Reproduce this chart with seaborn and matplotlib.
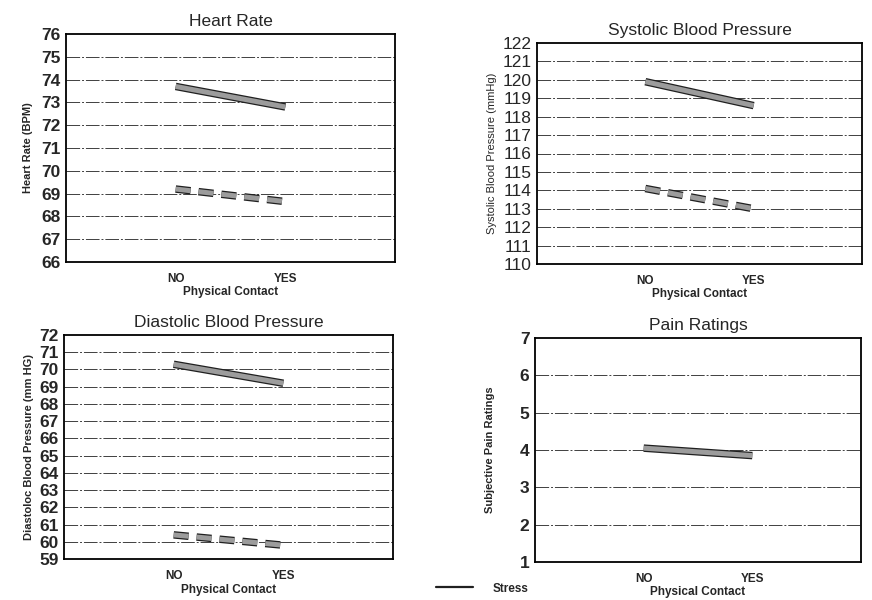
import matplotlib
matplotlib.use('Agg')
import matplotlib.pyplot as plt
import matplotlib.patheffects as pe
from matplotlib.lines import Line2D
import pandas as pd
import seaborn as sns

# values
contact = ['NO', 'YES']
hr_stress = [73.7, 72.8]
hr_control = [69.2, 68.65]
sbp_stress = [119.9, 118.6]
sbp_control = [114.1, 113.0]
dbp_stress = [70.3, 69.2]
dbp_control = [60.4, 59.8]
pain_stress = [4.05, 3.85]

sns.set_theme(style='white')
plt.rcParams['font.family'] = ['Liberation Sans', 'DejaVu Sans']


def make_df(stress, control=None):
    rows = [{'contact': c, 'value': v, 'cond': 'Stress'} for c, v in zip(contact, stress)]
    if control is not None:
        rows += [{'contact': c, 'value': v, 'cond': 'Control'} for c, v in zip(contact, control)]
    return pd.DataFrame(rows)


def panel(ax, df, title, ylabel, ylim, bold_ticks=True, bold_label=True):
    sns.lineplot(data=df, x='contact', y='value', style='cond', ax=ax,
                 dashes={'Stress': '', 'Control': (3, 1.6)}, color='#9c9c9c',
                 linewidth=3.6, legend=False, sort=False)
    for ln in ax.lines:
        ln.set_path_effects([pe.Stroke(linewidth=5.4, foreground='#202020'), pe.Normal()])
        ln.set_solid_capstyle('butt')
        ln.set_dash_capstyle('butt')
    ax.set_xlim(-1, 2)
    ax.set_ylim(*ylim)
    ax.set_yticks(range(ylim[0], ylim[1] + 1))
    for y in range(ylim[0] + 1, ylim[1]):
        ax.axhline(y, color='0.25', lw=0.7, ls=(0, (14, 2, 2, 2)), zorder=0)
    ax.set_title(title, fontsize=12.5, pad=6)
    ax.set_ylabel(ylabel, fontsize=8, fontweight='bold' if bold_label else 'normal')
    ax.set_xlabel('Physical Contact', fontsize=8.5, fontweight='bold', labelpad=1)
    ax.tick_params(axis='y', labelsize=12.5, length=0, pad=4)
    ax.tick_params(axis='x', labelsize=8.5, length=0, pad=8)
    for t in ax.get_xticklabels():
        t.set_fontweight('bold')
    if bold_ticks:
        for t in ax.get_yticklabels():
            t.set_fontweight('bold')
    for s in ax.spines.values():
        s.set_color('black')
        s.set_linewidth(1.3)


fig = plt.figure(figsize=(8.72, 6), dpi=100)
W, H = 872, 600


def add_axes(l, r, t, b):
    return fig.add_axes([l / W, 1 - b / H, (r - l) / W, (b - t) / H])


ax1 = add_axes(66, 395, 34, 262)
ax2 = add_axes(537, 862, 43, 264)
ax3 = add_axes(64, 393, 335, 559)
ax4 = add_axes(535, 861, 338, 562)

panel(ax1, make_df(hr_stress, hr_control), 'Heart Rate', 'Heart Rate (BPM)', (66, 76))
panel(ax2, make_df(sbp_stress, sbp_control), 'Systolic Blood Pressure',
      'Systolic Blood Pressure (mmHg)', (110, 122), bold_ticks=False, bold_label=False)
panel(ax3, make_df(dbp_stress, dbp_control), 'Diastolic Blood Pressure',
      'Diastoloc Blood Pressure (mm HG)', (59, 72))
panel(ax4, make_df(pain_stress), 'Pain Ratings', 'Subjective Pain Ratings', (1, 7))
ax4.yaxis.labelpad = 18
ax1.yaxis.labelpad = 6

# second legend row is cut by the bottom edge in the scan, only its dashes show
handles = [Line2D([], [], color='#202020', lw=1.6),
           Line2D([], [], color='#505050', lw=3, ls=(0, (2.5, 1.5)))]
fig.legend(handles, ['Stress', ''], loc='upper left',
           bbox_to_anchor=(425 / W, 1 - 572 / H), frameon=False,
           handlelength=3.2, handletextpad=1.6, labelspacing=0.5,
           prop={'weight': 'bold', 'size': 8.5})

fig.savefig('out.png', dpi=100)
